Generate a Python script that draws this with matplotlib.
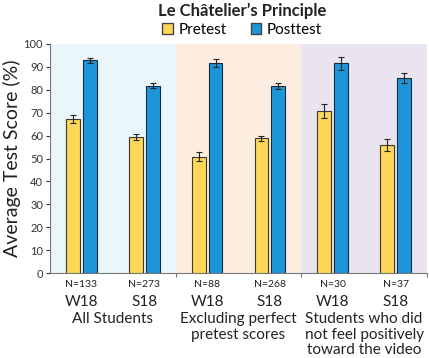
import matplotlib
matplotlib.use("Agg")
import matplotlib.pyplot as plt
import numpy as np
from matplotlib.patches import Patch

plt.rcParams['font.family'] = ['Lato', 'DejaVu Sans']

terms = ["W18", "S18", "W18", "S18", "W18", "S18"]
n_labels = ["N=133", "N=273", "N=88", "N=268", "N=30", "N=37"]
groups = ["All Students", "Excluding perfect\npretest scores",
          "Students who did\nnot feel positively\ntoward the video"]
pretest = [67.2, 59.4, 50.8, 58.8, 70.6, 56.0]
pretest_err = [1.6, 1.2, 2.0, 1.2, 3.0, 2.7]
posttest = [93.0, 81.7, 91.8, 81.6, 91.6, 85.0]
posttest_err = [1.1, 1.1, 1.7, 1.2, 2.8, 2.2]
group_colors = ["#E9F6FA", "#FDEDE0", "#EAE3F0"]

fig = plt.figure(figsize=(4.29, 3.58), dpi=100)
ax = fig.add_axes([50/429, 1-273/358, 377/429, 229/358])

x = np.arange(len(terms))
w = 0.22
gap = 0.025
ekw = dict(ecolor="#222222", elinewidth=0.8, capsize=2, capthick=0.8)
ax.bar(x - w/2 - gap, pretest, w, yerr=pretest_err, color="#FED758",
       edgecolor="#3a3a2a", linewidth=0.8, error_kw=ekw, zorder=3)
ax.bar(x + w/2 + gap, posttest, w, yerr=posttest_err, color="#1D96D9",
       edgecolor="#1a2a3a", linewidth=0.8, error_kw=ekw, zorder=3)

for i, c in enumerate(group_colors):
    ax.axvspan(2*i - 0.5, 2*i + 1.5, color=c, zorder=0, lw=0)

ax.set_xlim(-0.5, 5.5)
ax.set_ylim(0, 100)
ax.set_yticks(range(0, 101, 10))
ax.tick_params(axis='y', labelsize=8, colors="#333333", length=3, width=0.8, pad=2)
ax.set_xticks([1.5, 3.5, 5.5])
ax.set_xticklabels([])
ax.tick_params(axis='x', length=3, width=0.8, color="#777777")
for s in ["top", "right"]:
    ax.spines[s].set_visible(False)
ax.spines["left"].set_color("#777777")
ax.spines["bottom"].set_color("#777777")
ax.set_ylabel("Average Test Score (%)", fontsize=14, color="#222222", labelpad=2)

trans = ax.get_xaxis_transform()
for i in range(len(terms)):
    ax.text(x[i], -0.03, n_labels[i], transform=trans, ha="center", va="top",
            fontsize=7.5, color="#222222")
    ax.text(x[i], -0.095, terms[i], transform=trans, ha="center", va="top",
            fontsize=11, color="#222222")
for i, g in enumerate(groups):
    ax.text(2*i + 0.5, -0.17, g, transform=trans, ha="center", va="top",
            fontsize=11, color="#222222", linespacing=1.15)

cx = 242/429
fig.text(cx, 1 - 11/358, "Le Ch\u00e2telier\u2019s Principle", ha="center", va="center",
         fontsize=12, fontweight="bold", color="#222222")
handles = [Patch(facecolor="#FED758", edgecolor="#444444", label="Pretest"),
           Patch(facecolor="#1D96D9", edgecolor="#444444", label="Posttest")]
fig.legend(handles=handles, loc="center", bbox_to_anchor=(cx, 1 - 30/358), ncol=2,
           frameon=False, fontsize=11, handlelength=0.7, handleheight=0.7,
           handletextpad=0.35, columnspacing=1.6, borderpad=0)

fig.savefig("out.png", dpi=100)
